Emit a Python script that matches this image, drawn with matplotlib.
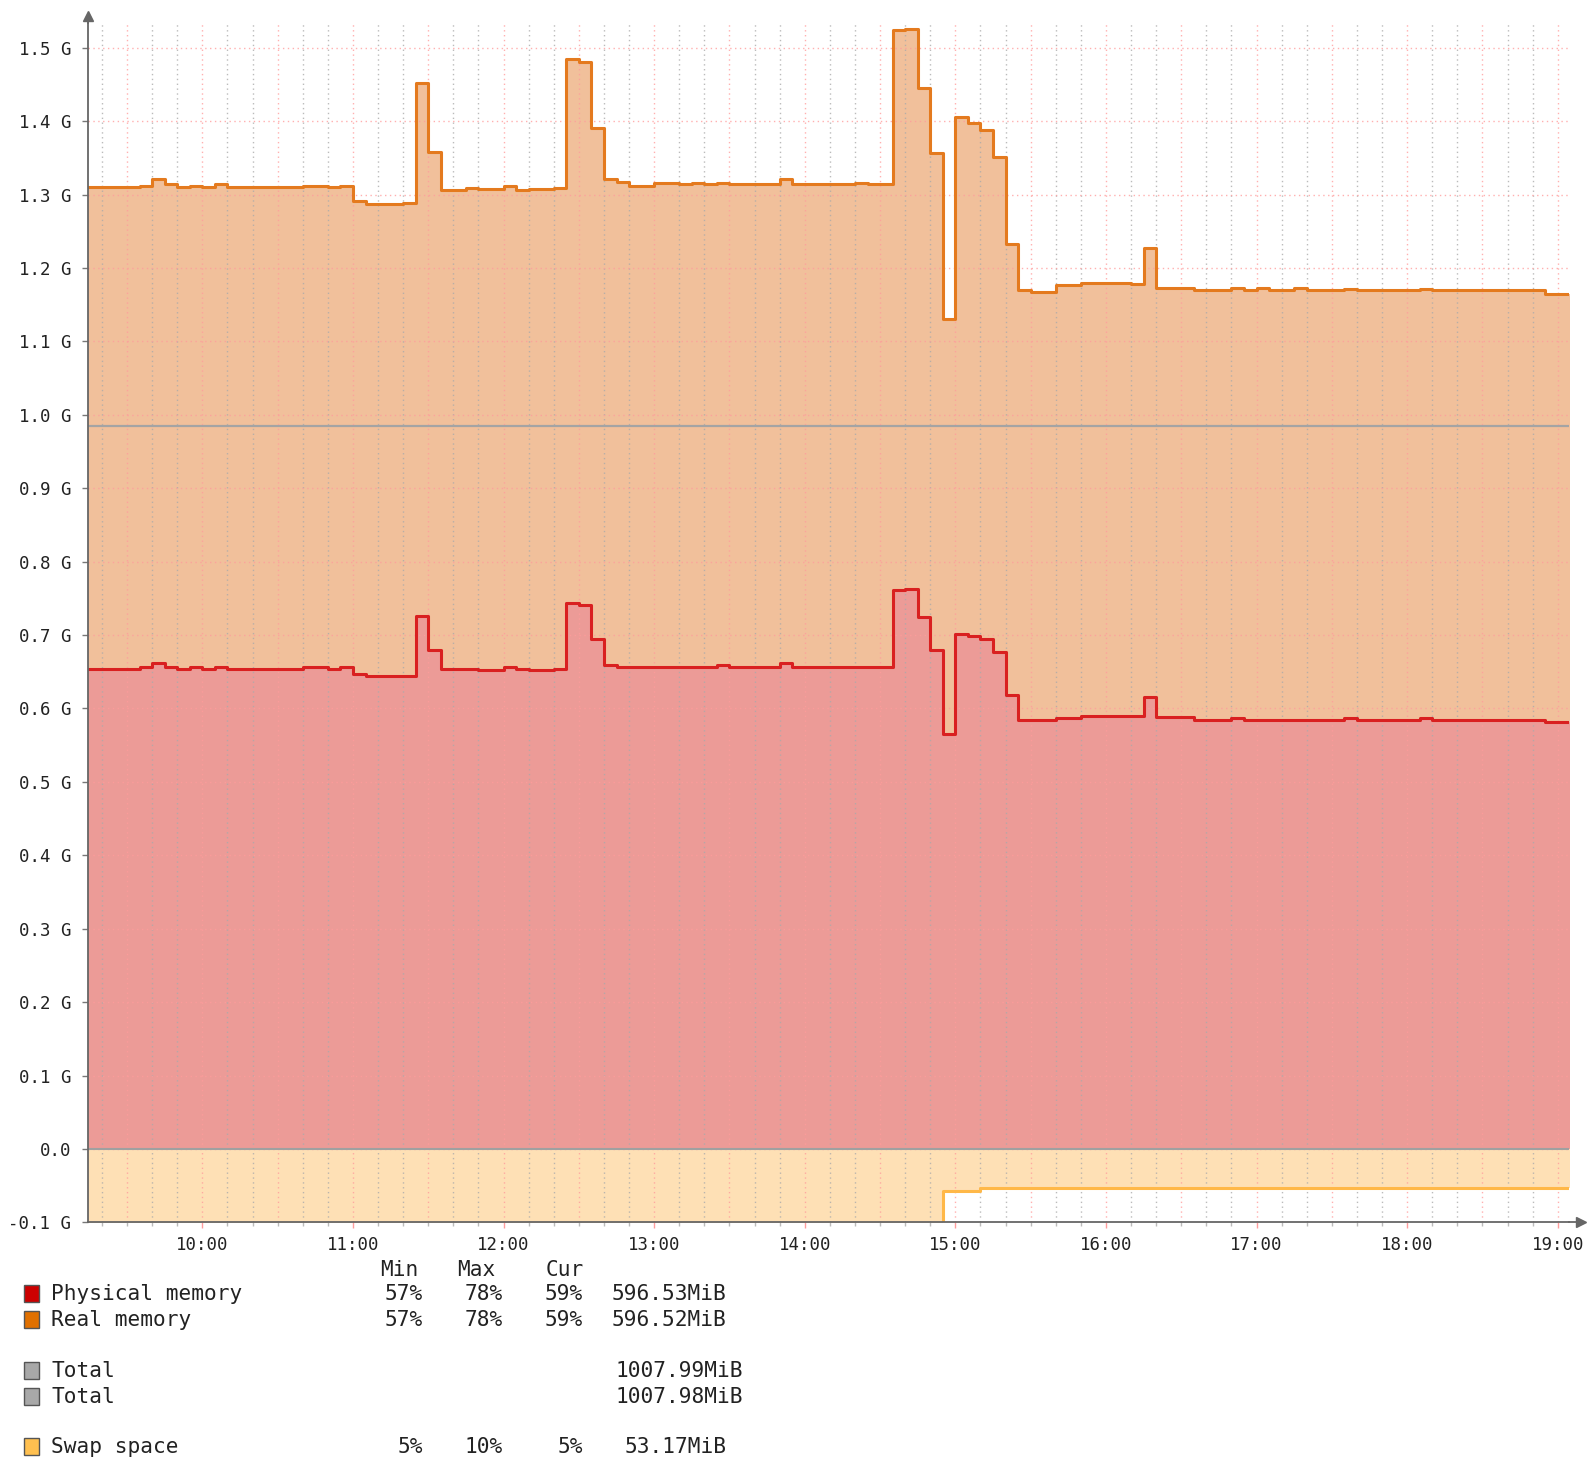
import numpy as np
import matplotlib
matplotlib.use("Agg")
import matplotlib.pyplot as plt
from matplotlib.patches import Rectangle

# memory samples, in GiB; each value holds until the next time
mem_times = ["09:10", "09:35", "09:40", "09:45", "09:50", "09:55", "10:00", "10:05",
             "10:10", "10:40", "10:50", "10:55", "11:00", "11:05", "11:20", "11:25",
             "11:30", "11:35", "11:45", "11:50", "12:00", "12:05", "12:10", "12:20",
             "12:25", "12:30", "12:35", "12:40", "12:45", "12:50", "13:00", "13:10",
             "13:15", "13:20", "13:25", "13:30", "13:50", "13:55", "14:20", "14:25",
             "14:35", "14:40", "14:45", "14:50", "14:55", "15:00", "15:05", "15:10",
             "15:15", "15:20", "15:25", "15:30", "15:40", "15:50", "16:10", "16:15",
             "16:20", "16:35", "16:50", "16:55", "17:00", "17:05", "17:15", "17:20",
             "17:35", "17:40", "18:05", "18:10", "18:55"]
physical = [0.654, 0.656, 0.662, 0.657, 0.654, 0.657, 0.654, 0.657,
            0.654, 0.657, 0.654, 0.657, 0.647, 0.644, 0.644, 0.726,
            0.679, 0.654, 0.654, 0.652, 0.657, 0.654, 0.652, 0.654,
            0.743, 0.741, 0.694, 0.659, 0.657, 0.657, 0.657, 0.657,
            0.657, 0.657, 0.659, 0.657, 0.662, 0.657, 0.657, 0.657,
            0.761, 0.763, 0.724, 0.679, 0.565, 0.702, 0.699, 0.694,
            0.677, 0.618, 0.584, 0.584, 0.587, 0.590, 0.590, 0.615,
            0.588, 0.584, 0.587, 0.584, 0.584, 0.584, 0.584, 0.584,
            0.587, 0.584, 0.587, 0.584, 0.582]
real = [0.656, 0.656, 0.659, 0.657, 0.656, 0.655, 0.656, 0.657,
        0.656, 0.655, 0.656, 0.654, 0.644, 0.643, 0.645, 0.726,
        0.679, 0.652, 0.655, 0.655, 0.654, 0.652, 0.655, 0.655,
        0.741, 0.740, 0.696, 0.662, 0.660, 0.655, 0.659, 0.657,
        0.659, 0.657, 0.657, 0.657, 0.659, 0.657, 0.659, 0.657,
        0.763, 0.763, 0.721, 0.677, 0.565, 0.703, 0.699, 0.694,
        0.674, 0.614, 0.586, 0.583, 0.590, 0.589, 0.588, 0.612,
        0.584, 0.586, 0.585, 0.586, 0.588, 0.586, 0.588, 0.586,
        0.584, 0.586, 0.584, 0.586, 0.582]
swap_times = ["09:10", "14:55", "15:10"]
swap = [-0.104, -0.057, -0.053]
total_mib = [1007.99, 1007.98]

end_time = "19:05"
view = ("09:14.3", "19:04.5")
hour_labels = ["10:00", "11:00", "12:00", "13:00", "14:00", "15:00",
               "16:00", "17:00", "18:00", "19:00"]
y_values = [-0.1, 0.0, 0.1, 0.2, 0.3, 0.4, 0.5, 0.6, 0.7, 0.8, 0.9,
            1.0, 1.1, 1.2, 1.3, 1.4, 1.5]
y_labels = ["-0.1 G", "0.0", "0.1 G", "0.2 G", "0.3 G", "0.4 G", "0.5 G",
            "0.6 G", "0.7 G", "0.8 G", "0.9 G", "1.0 G", "1.1 G", "1.2 G",
            "1.3 G", "1.4 G", "1.5 G"]

leg_names = ["Physical memory", "Real memory", "Total", "Total", "Swap space"]
leg_colors = ["#cc0000", "#e07000", "#a8a8a8", "#a8a8a8", "#ffc050"]
leg_min = ["57%", "57%", "", "", "5%"]
leg_max = ["78%", "78%", "", "", "10%"]
leg_cur = ["59%", "59%", "", "", "5%"]
leg_size = ["596.53MiB", "596.52MiB", "1007.99MiB", "1007.98MiB", "53.17MiB"]


def minutes(s):
    h, m = s.split(":")
    return int(h) * 60 + float(m)


W, H = 1588, 1484
fig = plt.figure(figsize=(W / 100, H / 100), dpi=100)
ax = fig.add_axes([87.7 / W, 1 - 1222.4 / H, (1569 - 87.7) / W, (1222.4 - 23) / H])

t = np.array([minutes(s) for s in mem_times + [end_time]])
phys = np.array(physical + physical[-1:])
stack = phys + np.array(real + real[-1:])
ts = np.array([minutes(s) for s in swap_times + [end_time]])
sw = np.array(swap + swap[-1:])

ax.fill_between(t, 0, phys, step="post", color="#ec9b97", lw=0, zorder=1)
ax.fill_between(t, phys, stack, step="post", color="#f1c09b", lw=0, zorder=1)
ax.fill_between(ts, 0, sw, step="post", color="#fee0b5", lw=0, zorder=1)

# grid
x0, x1 = minutes(view[0]), minutes(view[1])
ten = np.arange(np.ceil(x0 / 10) * 10, x1, 10)
for x in ten:
    if x % 30 == 0:
        ax.axvline(x, color="#ff9c9c", lw=1, ls=(0, (1, 2.5)), alpha=0.8, zorder=2)
    else:
        ax.axvline(x, color="#aaaaaa", lw=1, ls=(0, (1, 2.5)), alpha=0.8, zorder=2)
for y in y_values[1:]:
    ax.axhline(y, color="#ff9c9c", lw=1, ls=(0, (1, 2.5)), alpha=0.8, zorder=2)

for mib in total_mib:
    ax.axhline(mib / 1024, color="#a4a4a4", lw=1.5, zorder=3)
ax.axhline(0, color="#a0a0a0", lw=1.5, zorder=3)

ax.step(t, stack, where="post", color="#e47a1e", lw=2.2, zorder=4)
ax.step(t, phys, where="post", color="#d92020", lw=2.2, zorder=4)
ax.step(ts, sw, where="post", color="#ffb848", lw=2.2, zorder=4)

ax.set_xlim(x0, x1)
ax.set_ylim(-0.1, (1222.4 - 23) / 734.2 - 0.1)

ax.set_yticks(y_values)
ax.set_yticklabels(y_labels, family="DejaVu Sans Mono", fontsize=12.5, color="#222222")
ax.set_xticks([minutes(s) for s in hour_labels])
ax.set_xticklabels(hour_labels, family="DejaVu Sans Mono", fontsize=12.5, color="#222222")
ax.set_xticks(ten, minor=True)
ax.tick_params(axis="y", length=4, width=1, color="#777777", pad=8)
ax.tick_params(axis="x", which="major", length=4, width=1, color="#ff9c9c", pad=6)
ax.tick_params(axis="x", which="minor", length=3, width=1, color="#bbbbbb")

for side in ["top", "right"]:
    ax.spines[side].set_visible(False)
for side in ["left", "bottom"]:
    ax.spines[side].set_color("#666666")
    ax.spines[side].set_linewidth(1.3)
    ax.spines[side].set_zorder(5)

# axis arrows
ax.plot([0, 0], [1, 1.006], transform=ax.transAxes, color="#666666", lw=1.3, clip_on=False)
ax.plot(0, 1.006, marker="^", ms=7, color="#666666", transform=ax.transAxes, clip_on=False)
ax.plot([1, 1.008], [0, 0], transform=ax.transAxes, color="#666666", lw=1.3, clip_on=False)
ax.plot(1.008, 0, marker=">", ms=7, color="#666666", transform=ax.transAxes, clip_on=False)

# legend table, in pixel coordinates
leg = fig.add_axes([0, 0, 1, 1], zorder=-1)
leg.set_xlim(0, W)
leg.set_ylim(H, 0)
leg.axis("off")
mono = dict(family="DejaVu Sans Mono", fontsize=15.2, color="#222222", va="baseline")
for x, s in zip([418, 495, 584], ["Min", "Max", "Cur"]):
    leg.text(x, 1276, s, ha="right", **mono)
rows = [1300, 1326, 1377, 1403, 1453]
size_x = [612, 612, 615, 615, 625]
for i, y in enumerate(rows):
    leg.add_patch(Rectangle((24, y - 15), 15, 17, facecolor=leg_colors[i],
                            edgecolor="#555555", lw=1))
    leg.text(51, y, leg_names[i], ha="left", **mono)
    leg.text(423, y, leg_min[i], ha="right", **mono)
    leg.text(503, y, leg_max[i], ha="right", **mono)
    leg.text(583, y, leg_cur[i], ha="right", **mono)
    leg.text(size_x[i], y, leg_size[i], ha="left", **mono)

fig.savefig("out.png", dpi=100)
